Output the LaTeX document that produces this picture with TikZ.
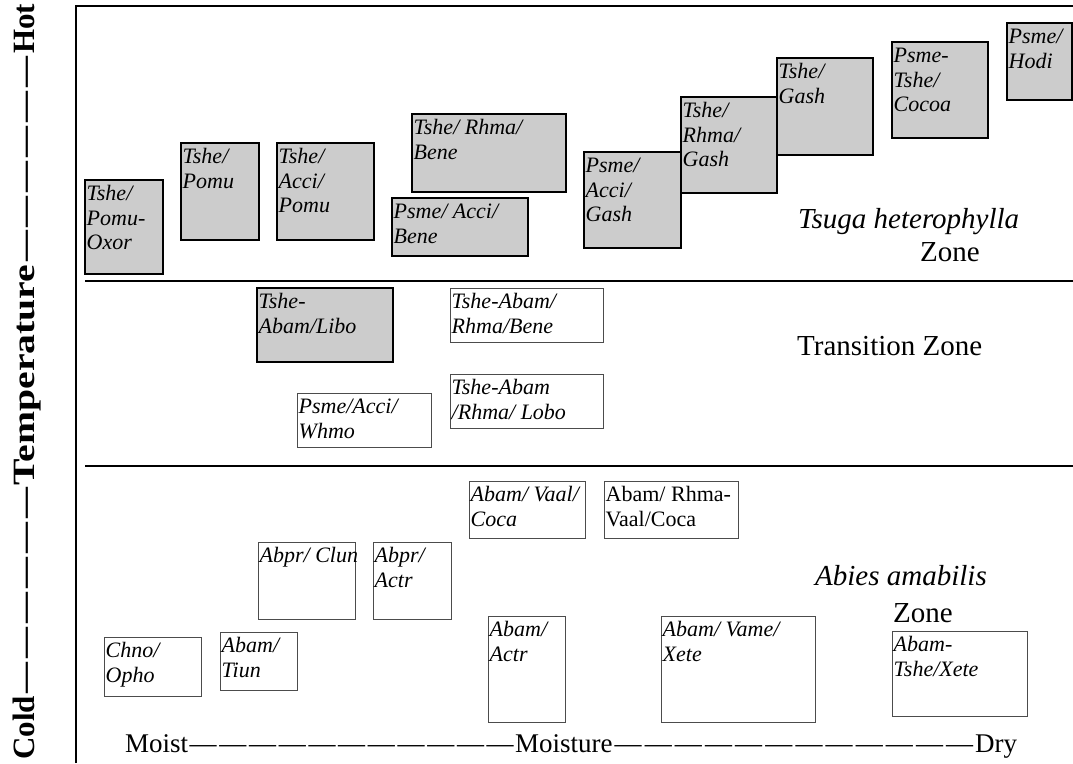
\documentclass[tikz,border=0pt]{standalone}
\usepackage{graphicx}
\usepackage{fontspec}
\setmainfont{Liberation Serif}
\definecolor{cellgray}{RGB}{204,204,204}
% #1 style, #2 name, #3 x, #4 y (top left corner), #5 width, #6 height, #7 text
\newcommand\zcell[7]{%
  \node[#1, minimum width=#5, minimum height=#6] (#2) at (#3,#4) {};
  \node[celltext] (#2t) at (#2.north west) {\strut #7};}
% one dash of an axis line, with a small gap on each side
\newcommand\axisdash{\hbox{\kern1.2pt—\kern1.2pt}}
\begin{document}
\begin{tikzpicture}[x=1pt,y=-1pt,
  cell/.style={anchor=north west, inner sep=0pt, outer sep=0pt},
  graycell/.style={cell, fill=cellgray, draw=black, line width=1.6pt},
  plaincell/.style={cell, fill=white, draw=black!70, line width=1pt},
  celltext/.style={anchor=north west, inner sep=0pt, align=left,
    font=\fontsize{22}{24.5}\selectfont\itshape, xshift=1.5pt, yshift=-3.5pt},
  zonetext/.style={anchor=base west, inner sep=0pt, font=\fontsize{29}{34}\selectfont},
  axistext/.style={anchor=base west, inner sep=0pt},
  frameline/.style={line width=1.6pt},
  divider/.style={line width=2.6pt},
]
\useasboundingbox (0,0) rectangle (1073,763);

% frame and zone dividers
\draw[frameline] (76,763) -- (76,6) -- (1073,6);
\draw[divider] (85,281) -- (1073,281);
\draw[divider] (85,466) -- (1073,466);

% Tsuga heterophylla zone
\zcell{graycell}{b1}{85}{180}{78}{94}{Tshe/\\Pomu-\\Oxor}
\zcell{graycell}{b2}{181}{143}{78}{97}{Tshe/\\Pomu}
\zcell{graycell}{b3}{277}{143}{97}{97}{Tshe/\\Acci/\\Pomu}
\zcell{graycell}{b4}{412}{114}{154}{78}{Tshe/ Rhma/\\Bene}
\zcell{graycell}{b5}{392}{198}{136}{58}{Psme/ Acci/\\Bene}
\zcell{graycell}{b6}{584}{152}{97}{96}{Psme/\\Acci/\\Gash}
\zcell{graycell}{b8}{777}{58}{96}{97}{Tshe/\\Gash}
\zcell{graycell}{b7}{681}{97}{96}{96}{Tshe/\\Rhma/\\Gash}
\zcell{graycell}{b9}{892}{42}{96}{96}{Psme-\\Tshe/\\Cocoa}
\zcell{graycell}{b10}{1007}{23}{65}{77}{Psme/\\Hodi}
\node[zonetext, font=\fontsize{29}{34}\selectfont\itshape] (tsuga) at (798,228) {Tsuga heterophylla};
\node[zonetext] (tsugazone) at (920,261) {Zone};

% Transition zone
\zcell{graycell}{t1}{257}{288}{136}{74}{Tshe-\\Abam/Libo}
\zcell{plaincell}{t2}{450}{288}{153}{54}{Tshe-Abam/\\Rhma/Bene}
\zcell{plaincell}{t3}{297}{393}{134}{54}{Psme/Acci/\\Whmo}
\zcell{plaincell}{t4}{450}{374}{153}{54}{Tshe-Abam\\/Rhma/ Lobo}
\node[zonetext] (transition) at (797,355) {Transition Zone};

% Abies amabilis zone
\zcell{plaincell}{a1}{469}{481}{116}{57}{Abam/ Vaal/\\Coca}
\zcell{plaincell}{a2}{604}{481}{134}{57}{\upshape Abam/ Rhma-\\\upshape Vaal/Coca}
\zcell{plaincell}{a3}{258}{542}{97}{77}{Abpr/ Clun}
\zcell{plaincell}{a4}{373}{542}{78}{77}{Abpr/\\Actr}
\zcell{plaincell}{a5}{104}{637}{97}{59}{Chno/\\Opho}
\zcell{plaincell}{a6}{220}{632}{77}{58}{Abam/\\Tiun}
\zcell{plaincell}{a7}{488}{616}{77}{106}{Abam/\\Actr}
\zcell{plaincell}{a8}{661}{616}{154}{106}{Abam/ Vame/\\Xete}
\zcell{plaincell}{a9}{892}{631}{135}{85}{Abam-\\Tshe/Xete}
\node[zonetext, font=\fontsize{29}{34}\selectfont\itshape] (abies) at (815,585) {Abies amabilis};
\node[zonetext] (abieszone) at (893,622) {Zone};

% gradient axes
\node[axistext, rotate=90, font=\fontsize{31}{36}\selectfont\bfseries] (temp) at (34,760)
  {\hbox to 756pt{Cold\xleaders\axisdash\hfill\scalebox{1.28}[1]{Temperature}\xleaders\axisdash\hfill Hot}};
\node[axistext, font=\fontsize{27}{32}\selectfont] (moist) at (125,752)
  {\hbox to 892pt{Moist\xleaders\axisdash\hskip 327pt Moisture\xleaders\axisdash\hfill Dry}};
\end{tikzpicture}
\end{document}
